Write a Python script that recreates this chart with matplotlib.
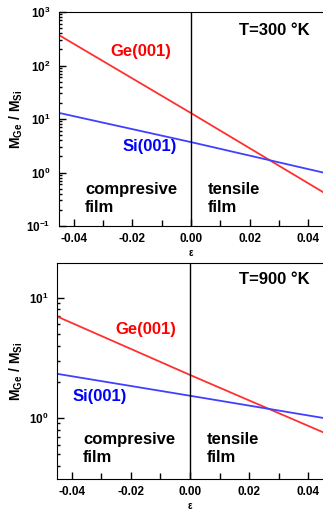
import matplotlib
matplotlib.use("Agg")
import matplotlib.pyplot as plt
from matplotlib.ticker import MultipleLocator, LogLocator, NullFormatter, FixedLocator, FixedFormatter
import numpy as np

plt.rcParams['font.family'] = ['Liberation Sans', 'DejaVu Sans']
plt.rcParams['font.weight'] = 'bold'
plt.rcParams['mathtext.fontset'] = 'custom'
plt.rcParams['mathtext.rm'] = 'Liberation Sans:bold'
plt.rcParams['mathtext.bf'] = 'Liberation Sans:bold'
plt.rcParams['mathtext.it'] = 'Liberation Sans:bold'

# Data (strain epsilon vs mass ratio)
strain = [-0.045, 0.0, 0.045]
ge_300 = [370, 12.9, 0.43]
si_300 = [13.0, 3.7, 1.0]
ge_900 = [7.0, 2.28, 0.76]
si_900 = [2.33, 1.53, 1.0]

xticks = [-0.04, -0.02, 0.0, 0.02, 0.04]
xticklabels = ['-0.04', '-0.02', '0.00', '0.02', '0.04']

fig = plt.figure(figsize=(3.23, 5.12), dpi=100)

def style(ax, ylim, yt, ytl, lx):
    ax.set_yscale('log')
    ax.set_xlim(-0.045, 0.045)
    ax.set_ylim(*ylim)
    ax.spines['right'].set_visible(False)
    ax.set_xticks(xticks)
    ax.set_xticklabels(xticklabels, fontsize=8.5, fontweight='bold')
    ax.xaxis.set_minor_locator(MultipleLocator(0.01))
    ax.yaxis.set_major_locator(FixedLocator(yt))
    ax.yaxis.set_major_formatter(FixedFormatter(ytl))
    ax.yaxis.set_minor_locator(LogLocator(base=10, subs=np.arange(2, 10)))
    ax.yaxis.set_minor_formatter(NullFormatter())
    ax.tick_params(axis='both', which='both', direction='in', top=False, right=False, colors='black')
    ax.tick_params(axis='x', which='major', length=5, width=1, pad=5)
    ax.tick_params(axis='x', which='minor', length=4, width=1)
    ax.tick_params(axis='y', which='major', length=5, width=1, labelsize=8.5, pad=6)
    ax.tick_params(axis='y', which='minor', length=2.5, width=1)
    ax.axvline(0.0, color='black', lw=1)
    ax.set_xlabel('ε', fontsize=7, fontweight='bold', labelpad=2)
    ax.set_ylabel(r'$\mathbf{M_{Ge}\ /\ M_{Si}}$', fontsize=10, va='center')
    ax.yaxis.set_label_coords(lx, 0.5)

fs = 12
# Top panel
ax1 = fig.add_axes([59/323, 1-226/512, 1-59/323, 214/512])
ax1.plot(strain, ge_300, color='#ff3030', lw=1.3)
ax1.plot(strain, si_300, color='#4040ff', lw=1.3)
style(ax1, (0.1, 1000), [0.1, 1, 10, 100, 1000],
      [r'$10^{-1}$', r'$10^{0}$', r'$10^{1}$', r'$10^{2}$', r'$10^{3}$'], (16-59)/264)
ax1.text(0.0406, 460, 'T=300 °K', fontsize=fs, fontweight='bold', ha='right', va='center')
ax1.text(-0.0276, 186, 'Ge(001)', color='#ff0000', fontsize=fs, fontweight='bold', va='center')
ax1.text(-0.0232, 3.0, 'Si(001)', color='#0000ff', fontsize=fs, fontweight='bold', va='center')
ax1.text(-0.0361, 0.327, 'compresive\nfilm', fontsize=fs, fontweight='bold', va='center', linespacing=1.25)
ax1.text(0.0058, 0.327, 'tensile\nfilm', fontsize=fs, fontweight='bold', va='center', linespacing=1.25)

# Bottom panel
ax2 = fig.add_axes([57/323, 1-479/512, 1-57/323, 216/512])
ax2.plot(strain, ge_900, color='#ff3030', lw=1.3)
ax2.plot(strain, si_900, color='#4040ff', lw=1.3)
style(ax2, (0.31, 19.5), [1, 10], [r'$10^{0}$', r'$10^{1}$'], (16-57)/266)
ax2.text(0.0406, 14.1, 'T=900 °K', fontsize=fs, fontweight='bold', ha='right', va='center')
ax2.text(-0.0254, 5.5, 'Ge(001)', color='#ff0000', fontsize=fs, fontweight='bold', va='center')
ax2.text(-0.0396, 1.5, 'Si(001)', color='#0000ff', fontsize=fs, fontweight='bold', va='center')
ax2.text(-0.0362, 0.56, 'compresive\nfilm', fontsize=fs, fontweight='bold', va='center', linespacing=1.25)
ax2.text(0.0058, 0.56, 'tensile\nfilm', fontsize=fs, fontweight='bold', va='center', linespacing=1.25)

fig.savefig('out.png', dpi=100)
